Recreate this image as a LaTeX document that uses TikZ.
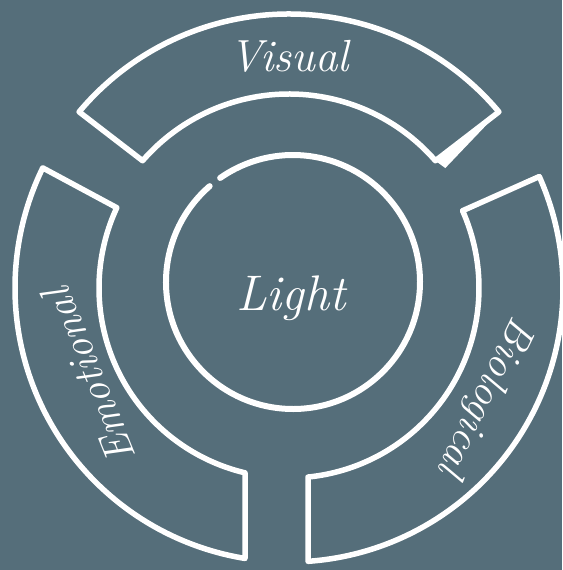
\documentclass[tikz,border=0pt]{standalone}
\usepackage{tikz}
\usepackage{xcolor}
\definecolor{slate}{RGB}{85,110,122}

\begin{document}
\begin{tikzpicture}[x=1pt, y=1pt,
  band/.style={draw=white, line width=5.5pt, line join=round},
  word/.style={text=white, font=\itshape\fontsize{42}{42}\selectfont}]
% Background
\fill[slate] (-289,-282) rectangle (273,288);
\useasboundingbox (-289,-282) rectangle (273,288);

% Band Visual (top)
\draw[band] (140:274) arc (140:40:274) -- (41:194) arc (41:139:194) -- cycle;
\fill[white] (41:194) -- (37.5:197) -- (40:274) -- cycle;

% Band Biological (right)
\draw[band] (24:274) arc (24:-86.02:274) -- (-84.26:190) arc (-84.26:24:190) -- cycle;

% Band Emotional (left)
\draw[band] (154:274) arc (154:260.76:274) -- (256.61:190) arc (256.61:155:190) -- cycle;

% Centre circle, small break at upper left
\draw[white, line width=6pt, line cap=round] (4,6) ++(131:127) arc (131:485:127);

% Labels
\node[word, font=\itshape\fontsize{45}{45}\selectfont] (visual) at (90:232) {Visual};
\node[word, rotate=244] (biological) at (196,-108) {Biological};
\node[word, rotate=112] (emotional) at (-200,-88) {Emotional};
\node[word, font=\itshape\fontsize{50}{50}\selectfont] (light) at (2,-10) {Light};
\end{tikzpicture}
\end{document}
